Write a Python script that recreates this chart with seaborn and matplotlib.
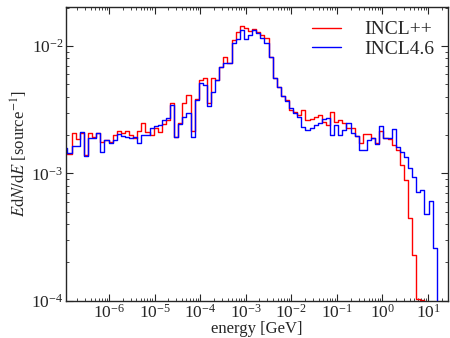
import numpy as np
import pandas as pd
import seaborn as sns
import matplotlib.pyplot as plt
from matplotlib.ticker import LogLocator

# histogram bin edges: 100 log bins from 1e-7 to 1e2 GeV
edges = np.logspace(-7, 2, 101)

# E dN/dE per bin, in units of 1e-3 per source
incl_pp = [1.41, 1.41, 2.07, 1.85, 2.07, 1.39, 2.07, 1.92, 2.07, 1.75,
           1.82, 1.75, 1.99, 2.14, 2.07, 2.14, 1.99, 1.89, 2.14, 2.47,
           2.10, 1.99, 2.26, 2.10, 2.43, 2.61, 3.56, 1.92, 2.47, 3.56,
           4.11, 2.14, 3.83, 5.40, 5.60, 3.56, 5.60, 5.40, 6.83, 8.19,
           7.35, 11.1, 12.9, 14.4, 13.9, 13.1, 13.6, 12.9, 12.2, 11.6,
           8.19, 5.60, 4.76, 4.04, 3.76, 3.13, 3.02, 2.86, 3.13, 2.61,
           2.66, 2.76, 2.86, 2.52, 2.39, 3.02, 2.52, 2.61, 2.47, 2.26,
           2.26, 1.96, 1.72, 2.03, 2.03, 1.89, 1.72, 2.14, 1.89, 1.85,
           1.66, 1.52, 1.16, 0.88, 0.45, 0.23, 0.104, 0.102]
incl46 = [1.57, 1.44, 1.63, 1.63, 2.10, 1.36, 1.89, 1.89, 2.07, 1.46,
          1.82, 1.72, 1.82, 2.03, 1.96, 1.92, 1.89, 1.92, 1.72, 1.99,
          1.99, 2.26, 2.34, 2.39, 2.61, 2.71, 3.43, 1.92, 2.43, 2.76,
          2.97, 1.92, 3.76, 5.11, 4.93, 3.37, 4.34, 5.40, 6.83, 7.35,
          7.35, 10.6, 11.3, 13.4, 11.3, 12.2, 13.4, 12.7, 11.6, 10.6,
          8.19, 5.60, 4.76, 4.04, 3.69, 3.25, 2.97, 2.76, 2.30, 2.18,
          2.26, 2.39, 2.47, 2.66, 2.71, 1.99, 2.39, 1.99, 2.18, 2.47,
          2.07, 1.96, 1.52, 1.52, 1.82, 1.89, 1.69, 2.34, 1.89, 1.89,
          2.22, 1.60, 1.46, 1.34, 1.11, 0.93, 0.71, 0.735, 0.48, 0.61,
          0.26]

labels = ['INCL++', 'INCL4.6']
colors = ['red', 'blue']

rows = []
for name, vals in zip(labels, [incl_pp, incl46]):
    y = np.zeros(len(edges))
    y[:len(vals)] = np.array(vals) * 1e-3
    y[-1] = y[-2]  # repeat last value for steps-post
    rows.append(pd.DataFrame({'energy': edges, 'val': y, 'model': name}))
df = pd.concat(rows, ignore_index=True)

sns.set_theme(style='ticks')
plt.rcParams['font.family'] = ['Liberation Serif', 'DejaVu Serif']
plt.rcParams['mathtext.fontset'] = 'stix'

fig = plt.figure(figsize=(4.5, 3.38), dpi=100)
ax = fig.add_axes([0.147, 0.11, 0.848, 0.869])

sns.lineplot(data=df, x='energy', y='val', hue='model', palette=colors,
             estimator=None, sort=False, drawstyle='steps-post', lw=1.0, ax=ax)

ax.set_xscale('log')
ax.set_yscale('log')
ax.set_xlim(1.15e-7, 27)
ax.set_ylim(1e-4, 2.02e-2)
ax.xaxis.set_major_locator(LogLocator(base=10, numticks=20))
ax.xaxis.set_minor_locator(LogLocator(base=10, subs=np.arange(2, 10), numticks=20))

ax.set_xlabel('energy [GeV]', fontsize=12, labelpad=0)
ax.set_ylabel(r'$E\mathrm{d}N/\mathrm{d}E$ [source$^{-1}$]', fontsize=12, labelpad=1)

ax.tick_params(which='both', direction='in', top=True, right=True, labelsize=12.5)
ax.tick_params(which='major', length=5, width=0.8, pad=2)
ax.tick_params(which='minor', length=2.5, width=0.6)
for s in ax.spines.values():
    s.set_linewidth(1.0)

sns.move_legend(ax, 'upper right', title=None, frameon=False, fontsize=14,
                labelspacing=0.1, handlelength=1.5, handletextpad=1.2,
                borderaxespad=0.3)

fig.savefig('out.png', dpi=100)
